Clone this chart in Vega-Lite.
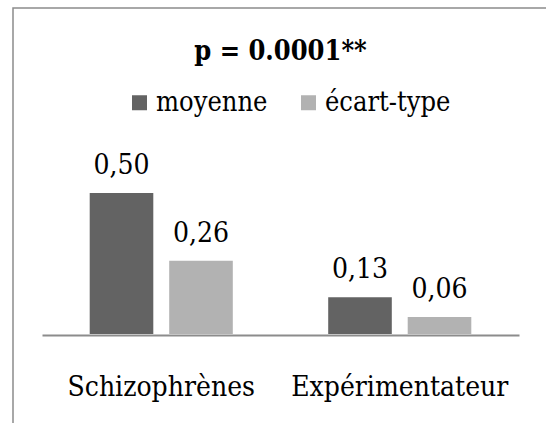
{
  "$schema": "https://vega.github.io/schema/vega-lite/v6.json",
  "autosize": {"type": "none"},
  "width": 535,
  "height": 417,
  "padding": {"left": 13, "top": 8, "right": -2, "bottom": -2},
  "background": "white",
  "title": {
    "text": "p = 0.0001**",
    "font": "DejaVu Serif Condensed",
    "fontSize": 27,
    "fontWeight": "bold",
    "color": "black",
    "anchor": "middle",
    "frame": "group",
    "offset": -58
  },
  "data": {
    "values": [
      {"groupe": "Schizophrènes", "serie": "moyenne", "valeur": 0.50},
      {"groupe": "Schizophrènes", "serie": "écart-type", "valeur": 0.26},
      {"groupe": "Expérimentateur", "serie": "moyenne", "valeur": 0.13},
      {"groupe": "Expérimentateur", "serie": "écart-type", "valeur": 0.06}
    ]
  },
  "encoding": {
    "x": {
      "field": "groupe",
      "type": "nominal",
      "sort": ["Schizophrènes", "Expérimentateur"],
      "scale": {"range": [29, 506], "paddingInner": 0.4, "paddingOuter": 0.2},
      "axis": {
        "title": null,
        "orient": "bottom",
        "offset": -90,
        "labelAngle": 0,
        "ticks": false,
        "tickSize": 0,
        "domainColor": "#8c8c8c",
        "domainWidth": 2,
        "labelFont": "DejaVu Serif Condensed",
        "labelFontSize": 28,
        "labelColor": "black",
        "labelPadding": 38,
        "labelLimit": 0
      }
    },
    "xOffset": {
      "field": "serie",
      "type": "nominal",
      "sort": ["moyenne", "écart-type"],
      "scale": {"paddingInner": 0.2, "paddingOuter": 0}
    },
    "y": {
      "field": "valeur",
      "type": "quantitative",
      "scale": {"domain": [-0.3227, 1.156], "nice": false, "zero": false},
      "axis": null
    }
  },
  "layer": [
    {
      "mark": {"type": "bar"},
      "encoding": {
        "color": {
          "field": "serie",
          "type": "nominal",
          "sort": ["moyenne", "écart-type"],
          "scale": {"domain": ["moyenne", "écart-type"], "range": ["#636363", "#b2b2b2"]},
          "legend": {
            "title": null,
            "orient": "none",
            "legendX": 113,
            "legendY": 81,
            "direction": "horizontal",
            "symbolType": "square",
            "symbolSize": 225,
            "symbolStrokeWidth": 0,
            "labelFont": "DejaVu Serif Condensed",
            "labelFontSize": 27,
            "labelColor": "black",
            "labelOffset": 3,
            "labelLimit": 0,
            "columnPadding": 27,
            "padding": 0
          }
        }
      }
    },
    {
      "mark": {"type": "text", "baseline": "alphabetic", "dy": -19, "font": "DejaVu Serif Condensed", "fontSize": 28, "color": "black"},
      "encoding": {
        "text": {"field": "valeur", "type": "quantitative", "format": ".2f"}
      }
    }
  ],
  "config": {
    "locale": {"number": {"decimal": ",", "thousands": " ", "grouping": [3], "currency": ["", " €"]}},
    "view": {"stroke": "#8c8c8c", "strokeWidth": 1.5}
  }
}
